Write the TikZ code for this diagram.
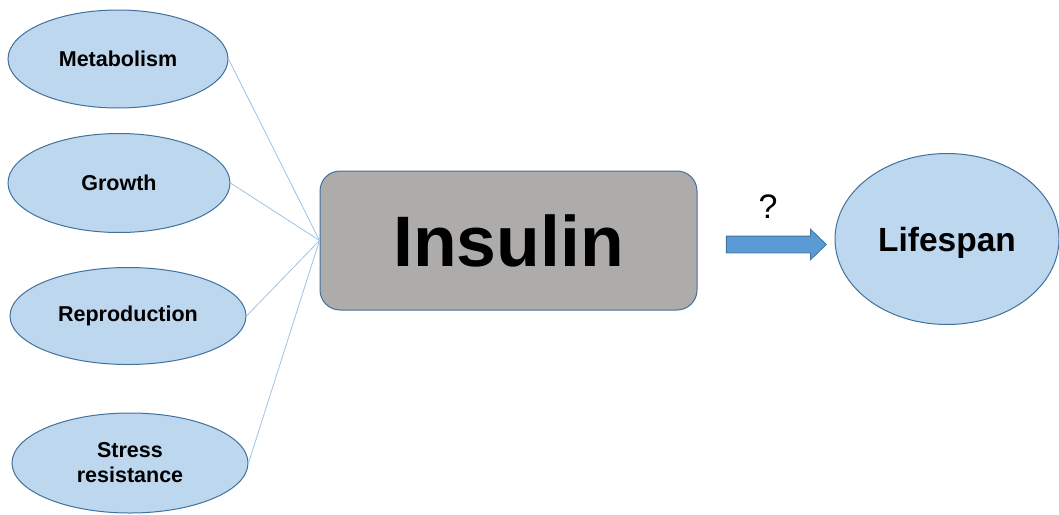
\documentclass[tikz,border=0pt]{standalone}
\usepackage{fontspec}
\setmainfont{Liberation Sans}
\usetikzlibrary{shapes.geometric,shapes.arrows}
\definecolor{ellfill}{HTML}{BDD7EE}
\definecolor{ellborder}{HTML}{41719C}
\definecolor{linkcol}{HTML}{9DC3E6}
\definecolor{boxfill}{HTML}{AEABAB}
\definecolor{arrfill}{HTML}{5B9BD5}
\tikzset{
  oval/.style={ellipse, draw=ellborder, fill=ellfill, line width=1pt, inner sep=0pt,
    font=\fontsize{21.5}{25}\selectfont\bfseries, align=center},
  link/.style={draw=linkcol, line width=0.8pt},
}
\begin{document}
\begin{tikzpicture}[x=1pt,y=-1pt]
\useasboundingbox (0,0) rectangle (1059,514);
\node[oval, minimum width=220pt, minimum height=98pt] (met) at (118,59) {Metabolism};
\node[oval, minimum width=222pt, minimum height=99pt] (gro) at (119,183) {Growth};
\node[oval, minimum width=236pt, minimum height=97pt] (rep) at (128,316) {Reproduction};
\node[oval, minimum width=236pt, minimum height=100pt] (str) at (130,463) {Stress\\resistance};
\node[oval, minimum width=224pt, minimum height=171pt, font=\fontsize{33.5}{38}\selectfont\bfseries] (life) at (947,239) {\raisebox{-4pt}[\height][\depth]{Lifespan}};
\node[draw=ellborder, fill=boxfill, line width=1pt, rounded corners=20pt,
  minimum width=377pt, minimum height=139pt, inner sep=0pt,
  font=\fontsize{71.5}{80}\selectfont\bfseries] (ins) at (508.5,240.5) {Insulin};
\node[single arrow, draw=ellborder, fill=arrfill, line width=0.8pt, inner xsep=0pt, inner ysep=8pt,
  minimum height=100pt, single arrow head extend=7pt,
  single arrow tip angle=88] (arr) at (772,244.5) {};
\node[font=\fontsize{34}{38}\selectfont] (q) at (768,207) {?};
\draw[link] (met.east) -- (ins.west);
\draw[link] (gro.east) -- (ins.west);
\draw[link] (rep.east) -- (ins.west);
\draw[link] (str.east) -- (ins.west);
\end{tikzpicture}
\end{document}
